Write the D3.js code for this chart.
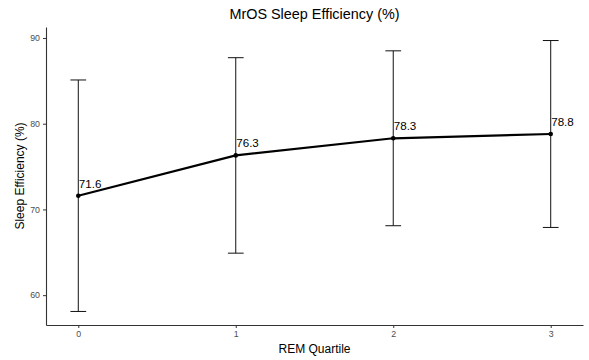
<!DOCTYPE html>
<html>
<head>
<meta charset="utf-8">
<script src="https://cdn.jsdelivr.net/npm/d3@7"></script>
<style>
  body { margin: 0; background: #fff; }
  text { font-family: "Liberation Sans", Arial, sans-serif; }
</style>
</head>
<body>
<svg id="chart" width="589" height="360"></svg>
<script>
const quartiles = [0, 1, 2, 3];
const meanEff = [71.6, 76.3, 78.3, 78.8];
const lowerEff = [58.1, 64.9, 68.1, 67.9];
const upperEff = [85.1, 87.7, 88.5, 89.7];
const yTicks = [60, 70, 80, 90];

const svg = d3.select("#chart");
const mLeft = 46, mRight = 583, mTop = 27, mBottom = 325;

// ggplot style expansion incl. errorbar width 0.1
const x = d3.scaleLinear().domain([-0.205, 3.205]).range([mLeft, mRight]);
const y = d3.scaleLinear().domain([56.52, 91.28]).range([mBottom, mTop]);

const data = quartiles.map((q, i) => ({ q: q, m: meanEff[i], lo: lowerEff[i], hi: upperEff[i] }));

// axes
const yAxis = svg.append("g").attr("transform", `translate(${mLeft},0)`)
    .call(d3.axisLeft(y).tickValues(yTicks).tickSize(3).tickSizeOuter(0).tickPadding(3));
const xAxis = svg.append("g").attr("transform", `translate(0,${mBottom})`)
    .call(d3.axisBottom(x).tickValues(quartiles).tickFormat(d3.format("d"))
        .tickSize(3).tickSizeOuter(0).tickPadding(3));

[yAxis, xAxis].forEach(g => {
    g.select(".domain").attr("stroke", "#333").attr("stroke-width", 1.1);
    g.selectAll(".tick line").attr("stroke", "#333");
    g.selectAll(".tick text").attr("fill", "#4d4d4d").style("font-size", "8.8px");
});

// error bars
const eb = svg.append("g").selectAll("g").data(data).enter().append("g");
eb.append("line")
    .attr("x1", d => x(d.q)).attr("x2", d => x(d.q))
    .attr("y1", d => y(d.lo)).attr("y2", d => y(d.hi))
    .attr("stroke", "#111").attr("stroke-width", 1);
eb.append("line")
    .attr("x1", d => x(d.q - 0.05)).attr("x2", d => x(d.q + 0.05))
    .attr("y1", d => y(d.hi)).attr("y2", d => y(d.hi))
    .attr("stroke", "#111").attr("stroke-width", 1);
eb.append("line")
    .attr("x1", d => x(d.q - 0.05)).attr("x2", d => x(d.q + 0.05))
    .attr("y1", d => y(d.lo)).attr("y2", d => y(d.lo))
    .attr("stroke", "#111").attr("stroke-width", 1);

// mean line
const line = d3.line().x(d => x(d.q)).y(d => y(d.m));
svg.append("path")
    .datum(data)
    .attr("d", line)
    .attr("fill", "none")
    .attr("stroke", "#000")
    .attr("stroke-width", 2.2);

svg.append("g").selectAll("circle").data(data).enter().append("circle")
    .attr("cx", d => x(d.q)).attr("cy", d => y(d.m))
    .attr("r", 2.3).attr("fill", "#000");

svg.append("g").selectAll("text").data(data).enter().append("text")
    .attr("x", d => x(d.q) + 0.5).attr("y", d => y(d.m) - 8)
    .style("font-size", "11.6px").attr("fill", "#000")
    .text(d => d.m.toFixed(1));

// titles
svg.append("text")
    .attr("x", (mLeft + mRight) / 2).attr("y", 18.5)
    .attr("text-anchor", "middle")
    .style("font-size", "14.4px")
    .text("MrOS Sleep Efficiency (%)");

svg.append("text")
    .attr("x", (mLeft + mRight) / 2).attr("y", 353)
    .attr("text-anchor", "middle")
    .style("font-size", "12px")
    .text("REM Quartile");

svg.append("text")
    .attr("transform", `translate(24,${(mTop + mBottom) / 2}) rotate(-90)`)
    .attr("text-anchor", "middle")
    .style("font-size", "12px")
    .text("Sleep Efficiency (%)");
</script>
</body>
</html>
